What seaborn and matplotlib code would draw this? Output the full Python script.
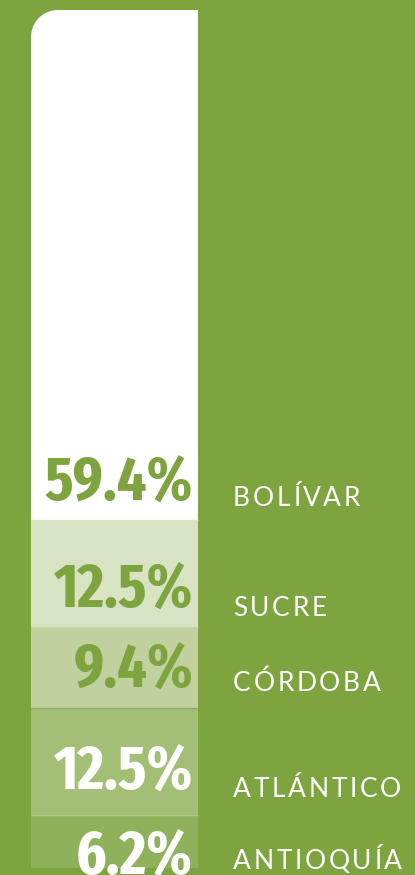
import numpy as np
import matplotlib
matplotlib.use("Agg")
import matplotlib.pyplot as plt
from matplotlib import font_manager, transforms
from matplotlib.font_manager import FontProperties
from matplotlib.path import Path
from matplotlib.textpath import TextPath
import seaborn as sns

# Share of the total by department, listed top to bottom of the stacked bar
regions = ["BOLÍVAR", "SUCRE", "CÓRDOBA", "ATLÁNTICO", "ANTIOQUÍA"]
shares = [59.4, 12.5, 9.4, 12.5, 6.2]
share_labels = ["59.4%", "12.5%", "9.4%", "12.5%", "6.2%"]

BG = "#7ea43f"
seg_colors = ["#ffffff", "#d8e3c4", "#c0d19f", "#a3bf76", "#90b15b"]
value_colors = [BG, BG, BG, "#ffffff", "#ffffff"]
# separator line drawn along the bottom edge of each segment
sep_colors = ["#d9e3c6", "#c6d5a8", "#8daf57", "#b0c988", None]

# vertical nudges (pixels) of the labels relative to each segment's bottom edge
value_dy = [19, 19, 20, 25, -7]
name_dy = [14, 11, 17, 18, -1]

sns.set_theme(style="white")
name_family = ["Lato", "DejaVu Sans"]


def pick_narrow_bold():
    """Narrowest bold face available for the big percentages."""
    best, best_score = None, None
    for f in font_manager.fontManager.ttflist:
        if not f.fname.lower().endswith((".ttf", ".otf")):
            continue
        key = (f.name + " " + str(f.stretch) + " " + f.fname).lower()
        if "mono" in key or "serif" in key and "sans" not in key:
            continue
        if "extracondensed" in key.replace("-", "").replace(" ", "") or "extra-condensed" in key:
            width = 3
        elif "semicondensed" in key.replace("-", "").replace(" ", ""):
            width = 1
        elif "condensed" in key or "narrow" in key:
            width = 2
        else:
            width = 0
        if "italic" in key or "oblique" in key:
            continue
        try:
            w = int(f.weight)
        except (TypeError, ValueError):
            w = 400
        score = (width, -abs(w - 650))
        if best_score is None or score > best_score:
            best, best_score = f, score
    if best is None or best_score[0] == 0:
        return FontProperties(family="DejaVu Sans", weight="bold")
    return FontProperties(fname=best.fname)


num_prop = pick_narrow_bold()

# size the percentages from the ink height and width of the widest label
probe = num_prop.copy()
probe.set_size(100)
cap_h = TextPath((0, 0), "59", prop=probe).get_extents().height
wide_w = TextPath((0, 0), "59.4%", prop=probe).get_extents().width
W, H, DPI = 415, 875, 100
size_px = min(100 * 45 / cap_h, 100 * 151 / wide_w)
num_prop.set_size(size_px * 72 / DPI)

fig = plt.figure(figsize=(W / DPI, H / DPI), dpi=DPI)
fig.patch.set_facecolor(BG)
ax = fig.add_axes([0, 0, 1, 1])
ax.set_facecolor(BG)

# cumulative tops, counted from the bottom of the bar
n = len(shares)
tops = [sum(shares[i:]) for i in range(n)]
bottoms = [sum(shares[i + 1:]) for i in range(n)]

# overlapping bars, tallest first, give the stacked column
sns.barplot(
    x=["total"] * n, y=tops, hue=regions, hue_order=regions,
    palette=seg_colors, dodge=False, legend=False, saturation=1,
    width=0.8, linewidth=0, ax=ax,
)

# axis ranges place the column on the canvas
px_per_x = 167 / 0.8
px_per_y = 858 / 100
ax.set_xlim(-0.4 - 31 / px_per_x, 0.4 + (W - 198) / px_per_x)
ax.set_ylim(-7 / px_per_y, 100 + 10 / px_per_y)
ax.axis("off")

for b, c in zip(bottoms, sep_colors):
    if c is not None and b > 0:
        ax.hlines(b, -0.4, 0.4, colors=c, linewidth=1.0, zorder=3)

fig.canvas.draw()
renderer = fig.canvas.get_renderer()

# rounded top-left corner on the top segment
top_patch = ax.patches[0]
bb = top_patch.get_window_extent(renderer)
r = 27
theta = np.linspace(np.pi / 2, np.pi, 20)
arc = np.column_stack([bb.x0 + r + r * np.cos(theta), bb.y1 - r + r * np.sin(theta)])
verts = np.vstack([[bb.x0, bb.y0], [bb.x1, bb.y0], [bb.x1, bb.y1], arc, [bb.x0, bb.y0]])
top_patch.set_clip_path(Path(verts, closed=True), transforms.IdentityTransform())

# percentage labels inside the column
for lab, b, c, dy in zip(share_labels, bottoms, value_colors, value_dy):
    ax.annotate(lab, (0.4, b), xytext=(-5, dy), textcoords="offset pixels",
                ha="right", va="baseline", color=c, fontproperties=num_prop,
                zorder=4)


def tracked(text, x, y, dx, dy, tracking, **kw):
    """Draw capitals one by one with extra spacing between letters."""
    off = dx
    for ch in text:
        t = ax.annotate(ch, (x, y), xytext=(off, dy), textcoords="offset pixels",
                        ha="left", va="baseline", **kw)
        off += t.get_window_extent(renderer).width + tracking


for name, b, dy in zip(regions, bottoms, name_dy):
    tracked(name, 0.4, b, 35, dy, 2.7, color="white", fontsize=19,
            family=name_family, zorder=4)

fig.savefig("out.png", dpi=DPI, facecolor=BG)
